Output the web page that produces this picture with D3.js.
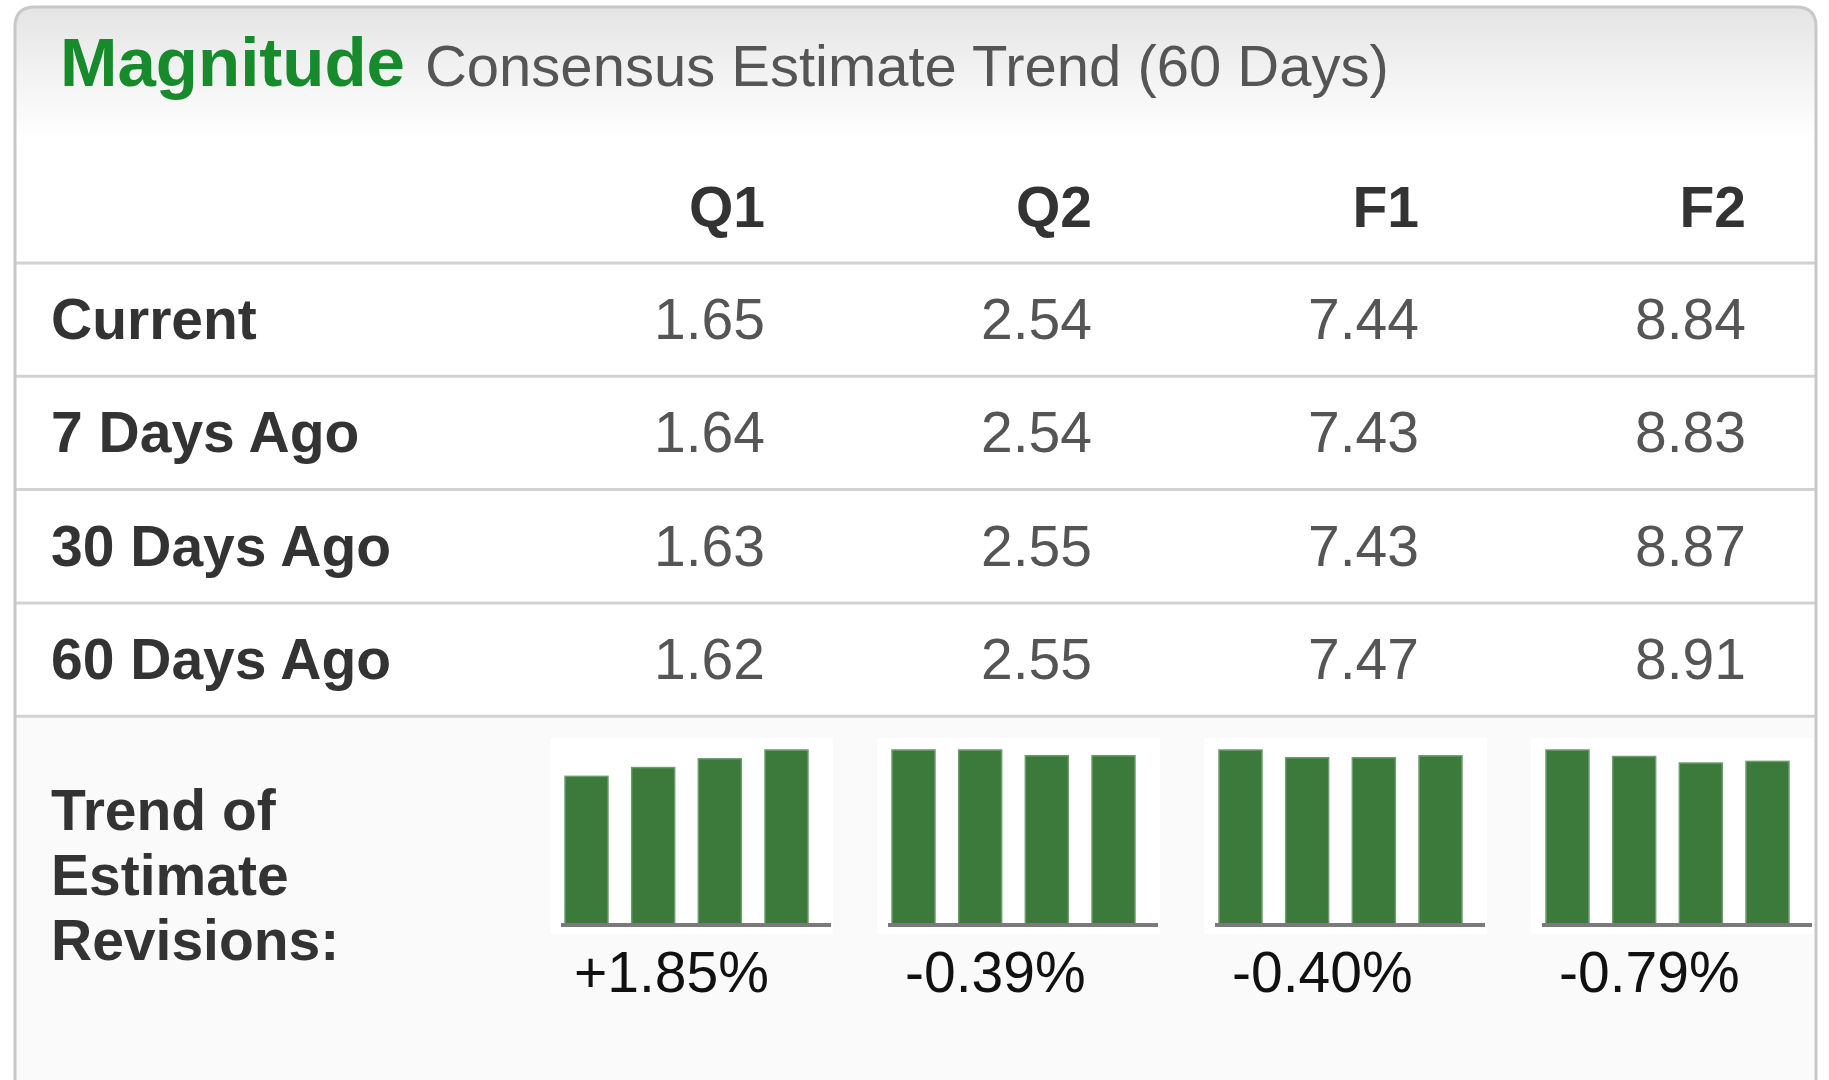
<!DOCTYPE html>
<html>
<head>
<meta charset="utf-8">
<script src="https://cdn.jsdelivr.net/npm/d3@7"></script>
<style>
  body { margin: 0; background: #ffffff; }
  svg { display: block; }
</style>
</head>
<body>
<script>
const width = 1829;
const height = 1080;

// table data
const periods = ["Q1", "Q2", "F1", "F2"];
const rowLabels = ["Current", "7 Days Ago", "30 Days Ago", "60 Days Ago"];
const current = [1.65, 2.54, 7.44, 8.84];
const days7 = [1.64, 2.54, 7.43, 8.83];
const days30 = [1.63, 2.55, 7.43, 8.87];
const days60 = [1.62, 2.55, 7.47, 8.91];
const revisions = ["+1.85%", "-0.39%", "-0.40%", "-0.79%"];

const rows = [current, days7, days30, days60];
const barOrder = ["60", "30", "7", "cur"]; // oldest on the left
const barValues = periods.map((p, i) => [days60[i], days30[i], days7[i], current[i]]);

const font = "'Liberation Sans', Arial, sans-serif";

const svg = d3.select("body").append("svg")
    .attr("width", width)
    .attr("height", height);

const defs = svg.append("defs");
const grad = defs.append("linearGradient")
    .attr("id", "head")
    .attr("x1", 0).attr("y1", 0).attr("x2", 0).attr("y2", 1);
grad.append("stop").attr("offset", "0%").attr("stop-color", "#e4e4e4");
grad.append("stop").attr("offset", "45%").attr("stop-color", "#f1f1f1");
grad.append("stop").attr("offset", "100%").attr("stop-color", "#ffffff");

// panel
const L = 15, R = 1816, T = 7, rad = 20;
const panelPath = `M${L},${height + 5} V${T + rad} Q${L},${T} ${L + rad},${T} H${R - rad} Q${R},${T} ${R},${T + rad} V${height + 5}`;
svg.append("path").attr("d", panelPath + "Z").attr("fill", "#ffffff");
svg.append("path")
    .attr("d", `M${L},140 V${T + rad} Q${L},${T} ${L + rad},${T} H${R - rad} Q${R},${T} ${R},${T + rad} V140 Z`)
    .attr("fill", "url(#head)");

// bottom section background
const rowY = d3.scaleLinear().domain([0, 1]).range([263, 376.3]); // separator lines
svg.append("rect")
    .attr("x", L).attr("y", rowY(4))
    .attr("width", R - L).attr("height", height - rowY(4))
    .attr("fill", "#fafafa");

// title
const title = svg.append("text")
    .attr("x", 60).attr("y", 86)
    .attr("font-family", font);
title.append("tspan")
    .attr("font-size", "69px").attr("font-weight", "bold").attr("fill", "#178a2b")
    .text("Magnitude");
title.append("tspan")
    .attr("dx", 20)
    .attr("font-size", "58px").attr("fill", "#555555")
    .text("Consensus Estimate Trend (60 Days)");

// columns (right edges)
const colX = d3.scalePoint().domain(periods).range([765, 1746]);

svg.selectAll("text.head")
    .data(periods)
    .join("text")
    .attr("class", "head")
    .attr("x", d => colX(d))
    .attr("y", 227)
    .attr("text-anchor", "end")
    .attr("font-family", font)
    .attr("font-size", "57px")
    .attr("font-weight", "bold")
    .attr("fill", "#333333")
    .text(d => d);

// separator lines
svg.selectAll("line.sep")
    .data(d3.range(5))
    .join("line")
    .attr("class", "sep")
    .attr("x1", L + 1).attr("x2", R - 1)
    .attr("y1", d => rowY(d)).attr("y2", d => rowY(d))
    .attr("stroke", "#d2d2d2")
    .attr("stroke-width", 3);

// rows
rows.forEach((vals, r) => {
    const base = rowY(r) + 76;
    svg.append("text")
        .attr("x", 51).attr("y", base)
        .attr("font-family", font)
        .attr("font-size", "57px")
        .attr("font-weight", "bold")
        .attr("fill", "#333333")
        .text(rowLabels[r]);

    svg.selectAll(null)
        .data(vals)
        .join("text")
        .attr("x", (d, i) => colX(periods[i]))
        .attr("y", base)
        .attr("text-anchor", "end")
        .attr("font-family", font)
        .attr("font-size", "57px")
        .attr("fill", "#555555")
        .text(d => d.toFixed(2));
});

// trend label
svg.append("text")
    .attr("font-family", font)
    .attr("font-size", "57px")
    .attr("font-weight", "bold")
    .attr("fill", "#333333")
    .selectAll("tspan")
    .data(["Trend of", "Estimate", "Revisions:"])
    .join("tspan")
    .attr("x", 51)
    .attr("y", (d, i) => 830 + i * 65)
    .text(d => d);

// mini bar charts
const baseY = 924, topY = 750;
periods.forEach((p, i) => {
    const x0 = colX(p) - 204;
    const vals = barValues[i];
    const maxV = d3.max(vals);
    const y = d3.scaleLinear().domain([maxV * 0.88, maxV]).range([baseY, topY]);
    const x = d3.scaleBand().domain(barOrder).range([x0 + 4, x0 + 247]).paddingInner(0.355);

    const g = svg.append("g");
    g.append("rect")
        .attr("x", x0 - 11).attr("y", 738)
        .attr("width", 283).attr("height", 196)
        .attr("fill", "#ffffff");

    g.selectAll("rect.bar")
        .data(vals)
        .join("rect")
        .attr("class", "bar")
        .attr("x", (d, j) => x(barOrder[j]))
        .attr("y", d => y(d))
        .attr("width", x.bandwidth())
        .attr("height", d => baseY - y(d))
        .attr("fill", "#3b7a3b")
        .attr("stroke", "#6e9c6e")
        .attr("stroke-width", 1.5);

    g.append("line")
        .attr("x1", x0).attr("x2", x0 + 270)
        .attr("y1", baseY + 1).attr("y2", baseY + 1)
        .attr("stroke", "#7a7a7a")
        .attr("stroke-width", 4);

    g.append("text")
        .attr("x", x0 + (revisions[i][0] === "+" ? 13 : 17)).attr("y", 992)
        .attr("font-family", font)
        .attr("font-size", "57px")
        .attr("fill", "#111111")
        .text(revisions[i]);
});

// border on top
svg.append("path")
    .attr("d", panelPath)
    .attr("fill", "none")
    .attr("stroke", "#c8c8c8")
    .attr("stroke-width", 3);
</script>
</body>
</html>
